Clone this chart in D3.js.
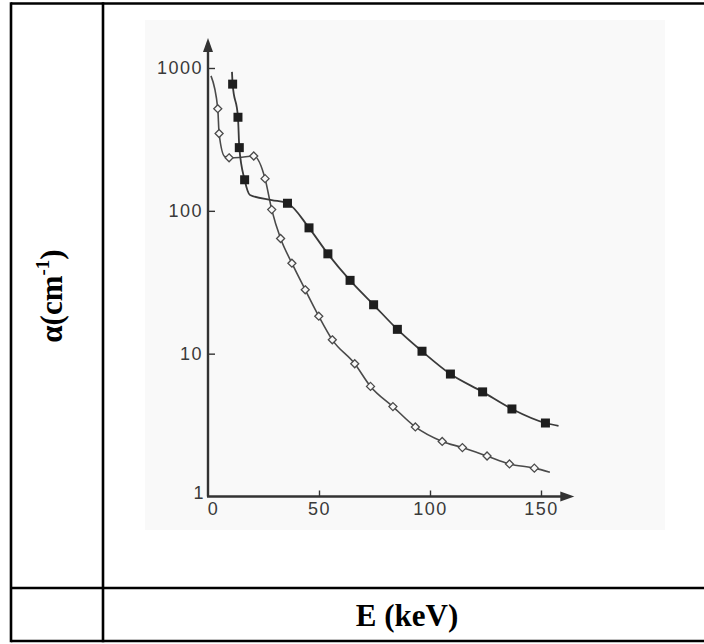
<!DOCTYPE html>
<html>
<head>
<meta charset="utf-8">
<script src="https://cdn.jsdelivr.net/npm/d3@7"></script>
<style>
  html, body { margin: 0; padding: 0; background: #fff; }
  svg { display: block; }
</style>
</head>
<body>
<svg id="chart" width="704" height="644"></svg>
<script>
// values
var yTicks = [1, 10, 100, 1000];
var xTicks = [0, 50, 100, 150];

// filled squares
var filledE = [11.1, 13.5, 14.1, 16.5, 35.8, 45.5, 54, 64, 74.6, 85.3, 96.4, 109.2, 123.7, 136.9, 152];
var filledA = [771, 452, 277, 165, 113, 76, 50, 32.6, 22, 14.8, 10.4, 7.2, 5.4, 4.1, 3.27];
// curve drawn through the squares (with the bits of line between them)
var filledLineE = [10.8, 11.1, 13.5, 14.1, 16.5, 18.9, 28.7, 35.8, 45.5, 54, 64, 74.6, 85.3, 96.4, 109.2, 123.7, 136.9, 152, 157.9];
var filledLineA = [939, 771, 452, 277, 165, 129, 119, 113, 76, 50, 32.6, 22, 14.8, 10.4, 7.2, 5.4, 4.1, 3.27, 3.12];

// open diamonds
var openE = [4.4, 5.0, 9.5, 20.6, 25.7, 28.7, 32.7, 37.8, 43.8, 49.9, 56, 66.1, 73.2, 83.3, 93.4, 105.5, 114.6, 125.7, 135.8, 147];
var openA = [519, 348, 235, 242, 168, 102, 64, 43, 28, 18.3, 12.5, 8.5, 5.9, 4.26, 3.07, 2.43, 2.2, 1.92, 1.69, 1.58];
var openLineE = [1.35, 4.4, 5.0, 7.5, 9.5, 14, 20.6, 25.7, 28.7, 32.7, 37.8, 43.8, 49.9, 56, 66.1, 73.2, 83.3, 93.4, 105.5, 114.6, 125.7, 135.8, 147, 154];
var openLineA = [881, 519, 348, 240, 235, 236, 242, 168, 102, 64, 43, 28, 18.3, 12.5, 8.5, 5.9, 4.26, 3.07, 2.43, 2.2, 1.92, 1.69, 1.58, 1.48];

// where the arrow heads sit, in data units
var xAxisEnd = 165;
var yAxisEnd = 1620;

var yLabel = 'α(cm';
var yLabelSup = '-1';
var xLabel = 'E (keV)';

var svg = d3.select('#chart');
var ink = '#333';

// table frame around the figure
var frame = svg.append('g').attr('stroke', '#000').attr('stroke-width', 2.6);
frame.append('line').attr('x1', 11).attr('y1', 3.5).attr('x2', 704).attr('y2', 3.5);
frame.append('line').attr('x1', 11).attr('y1', 588).attr('x2', 704).attr('y2', 588);
frame.append('line').attr('x1', 11).attr('y1', 641).attr('x2', 704).attr('y2', 641);
frame.append('line').attr('x1', 11).attr('y1', 2.2).attr('x2', 11).attr('y2', 642.3);
frame.append('line').attr('x1', 103).attr('y1', 2.2).attr('x2', 103).attr('y2', 642.3);

// faintly grey scanned image area
svg.append('rect')
	.attr('x', 145).attr('y', 20)
	.attr('width', 520).attr('height', 510)
	.attr('fill', '#f9f9f9');

var x = d3.scaleLinear().domain([0, 150]).range([208, 541]);
var y = d3.scaleLog().domain([1, 1000]).range([496.5, 68]);

var plot = svg.append('g');

// axis lines with arrow heads
plot.append('line')
	.attr('x1', x(0)).attr('y1', y(1))
	.attr('x2', x(0)).attr('y2', y(yAxisEnd) + 8)
	.attr('stroke', ink).attr('stroke-width', 2.4);
plot.append('line')
	.attr('x1', x(0) - 1).attr('y1', y(1))
	.attr('x2', x(xAxisEnd) - 8).attr('y2', y(1))
	.attr('stroke', ink).attr('stroke-width', 2.4);
plot.append('path')
	.attr('d', 'M' + x(0) + ',' + y(yAxisEnd) + 'l-5,14h10z')
	.attr('fill', ink);
plot.append('path')
	.attr('d', 'M' + x(xAxisEnd) + ',' + y(1) + 'l-14,-5v10z')
	.attr('fill', ink);

// ticks and tick labels
var yAxis = d3.axisLeft(y)
	.tickValues(yTicks)
	.tickFormat(d3.format('d'))
	.tickSizeInner(-7)
	.tickSizeOuter(0)
	.tickPadding(5);
var yAxisG = plot.append('g')
	.attr('transform', 'translate(' + x(0) + ',0)')
	.call(yAxis);
yAxisG.select('.domain').remove();

var xAxis = d3.axisBottom(x)
	.tickValues(xTicks)
	.tickFormat(d3.format('d'))
	.tickSizeInner(-6)
	.tickSizeOuter(0)
	.tickPadding(6);
var xAxisG = plot.append('g')
	.attr('transform', 'translate(0,' + y(1) + ')')
	.call(xAxis);
xAxisG.select('.domain').remove();

plot.selectAll('.tick line').attr('stroke', ink).attr('stroke-width', 1.4);
plot.selectAll('.tick text')
	.attr('fill', '#3a3a3a')
	.attr('font-family', 'Liberation Sans, Arial, sans-serif')
	.attr('font-size', 18)
	.attr('letter-spacing', 1.5);
// the 1 and 0 at the origin are nudged apart in the original
yAxisG.selectAll('.tick').filter(function (d) { return d == 1; })
	.select('text').attr('dy', '0.1em').attr('x', -3);
yAxisG.selectAll('.tick').filter(function (d) { return d == 1; }).select('line').remove();
xAxisG.selectAll('.tick').filter(function (d) { return d == 0; })
	.select('text').attr('x', 5);
xAxisG.selectAll('.tick').filter(function (d) { return d == 0; }).select('line').remove();

// curves
var line = d3.line()
	.x(function (d) { return x(d[0]); })
	.y(function (d) { return y(d[1]); })
	.curve(d3.curveMonotoneX);

var filledLine = d3.zip(filledLineE, filledLineA);
var openLine = d3.zip(openLineE, openLineA);

plot.append('path')
	.attr('d', line(openLine))
	.attr('fill', 'none')
	.attr('stroke', '#4a4a4a')
	.attr('stroke-width', 1.6);
plot.append('path')
	.attr('d', line(filledLine))
	.attr('fill', 'none')
	.attr('stroke', '#3a3a3a')
	.attr('stroke-width', 1.8);

// markers
var openPts = d3.zip(openE, openA);
var filledPts = d3.zip(filledE, filledA);

plot.append('g').selectAll('path')
	.data(openPts)
	.join('path')
	.attr('transform', function (d) { return 'translate(' + x(d[0]) + ',' + y(d[1]) + ')'; })
	.attr('d', 'M0,-4L4,0L0,4L-4,0Z')
	.attr('fill', '#f9f9f9')
	.attr('stroke', '#4a4a4a')
	.attr('stroke-width', 1.3);

plot.append('g').selectAll('rect')
	.data(filledPts)
	.join('rect')
	.attr('x', function (d) { return x(d[0]) - 4.5; })
	.attr('y', function (d) { return y(d[1]) - 4.5; })
	.attr('width', 9)
	.attr('height', 9)
	.attr('fill', '#1e1e1e');

// axis titles in the table cells
var yt = svg.append('text')
	.attr('transform', 'translate(62,296) rotate(-90)')
	.attr('text-anchor', 'middle')
	.attr('font-family', 'Liberation Serif, Times New Roman, serif')
	.attr('font-weight', 'bold')
	.attr('font-size', 31)
	.attr('fill', '#000');
yt.append('tspan').text(yLabel);
yt.append('tspan').attr('font-size', 19).attr('dy', -13).text(yLabelSup);
yt.append('tspan').attr('dy', 13).text(')');

svg.append('text')
	.attr('x', 407)
	.attr('y', 626)
	.attr('text-anchor', 'middle')
	.attr('font-family', 'Liberation Serif, Times New Roman, serif')
	.attr('font-weight', 'bold')
	.attr('font-size', 31)
	.attr('fill', '#000')
	.text(xLabel);
</script>
</body>
</html>
